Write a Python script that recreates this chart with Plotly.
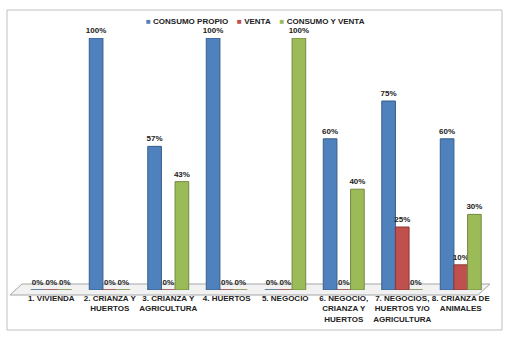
import plotly.graph_objects as go

categories = ["1. VIVIENDA", "2. CRIANZA Y<br>HUERTOS", "3. CRIANZA Y<br>AGRICULTURA", "4. HUERTOS",
              "5. NEGOCIO", "6. NEGOCIO,<br>CRIANZA Y<br>HUERTOS", "7. NEGOCIOS,<br>HUERTOS Y/O<br>AGRICULTURA",
              "8. CRIANZA DE<br>ANIMALES"]
consumo_propio = [0, 100, 57, 100, 0, 60, 75, 60]
venta = [0, 0, 0, 0, 0, 0, 25, 10]
consumo_y_venta = [0, 0, 43, 0, 100, 40, 0, 30]

series = [
    ("CONSUMO PROPIO", consumo_propio, "#4F81BD", "#385D8A"),
    ("VENTA", venta, "#C0504D", "#8C3836"),
    ("CONSUMO Y VENTA", consumo_y_venta, "#9BBB59", "#71893F"),
]

FONT = "Liberation Sans Narrow, Liberation Sans, sans-serif"
fig = go.Figure()
for name, vals, col, edge in series:
    fig.add_trace(go.Bar(
        x=categories, y=vals, name=name, showlegend=False,
        marker=dict(color=col, line=dict(color=edge, width=1)),
        texttemplate="%{y}%", textposition="outside",
        textfont=dict(family=FONT, size=8, color="#222222", weight="bold"),
        cliponaxis=False, constraintext="none",
    ))

L, T, W, H = 22, 38, 468, 252
def px(x):
    return (x - L) / W
def py(y):
    return (T + H - y) / H

shapes = [
    # chart border
    dict(type="rect", xref="paper", yref="paper", x0=px(7), x1=px(502), y0=py(330), y1=py(10),
         line=dict(color="#BFBFBF", width=1), layer="below"),
    # floor
    dict(type="path", xref="paper", yref="paper",
         path=f"M {px(10)},{py(295)} L {px(22)},{py(284)} L {px(490)},{py(284)} L {px(478)},{py(295)} Z",
         fillcolor="#F2F2F2", line=dict(color="#A6A6A6", width=1), layer="below"),
]

legend_text = "&nbsp;&nbsp;&nbsp;&nbsp;".join(
    f'<span style="color:{col}">■</span> {name}' for name, _, col, _ in series)

fig.update_layout(
    width=505, height=338,
    margin=dict(l=L, r=505 - L - W, t=T, b=338 - T - H, autoexpand=False),
    paper_bgcolor="white", plot_bgcolor="rgba(0,0,0,0)",
    barmode="group", bargap=0.3, bargroupgap=0,
    font=dict(family=FONT, size=8, color="#222222", weight="bold"),
    showlegend=False,
    annotations=[dict(text=legend_text, xref="paper", yref="paper", x=px(255), y=py(21),
                      xanchor="center", yanchor="middle", showarrow=False,
                      font=dict(family=FONT, size=8, color="#222222", weight="bold"))],
    xaxis=dict(showgrid=False, zeroline=False, showline=False, ticks="", tickangle=0,
               automargin=False, ticklabelstandoff=2,
               tickfont=dict(family=FONT, size=8, color="#222222", weight="bold")),
    yaxis=dict(range=[0, 100], visible=False, automargin=False),
    shapes=shapes,
)

fig.write_html("out.html", config={"displayModeBar": False},
               post_script="document.body.style.margin='0px';")
